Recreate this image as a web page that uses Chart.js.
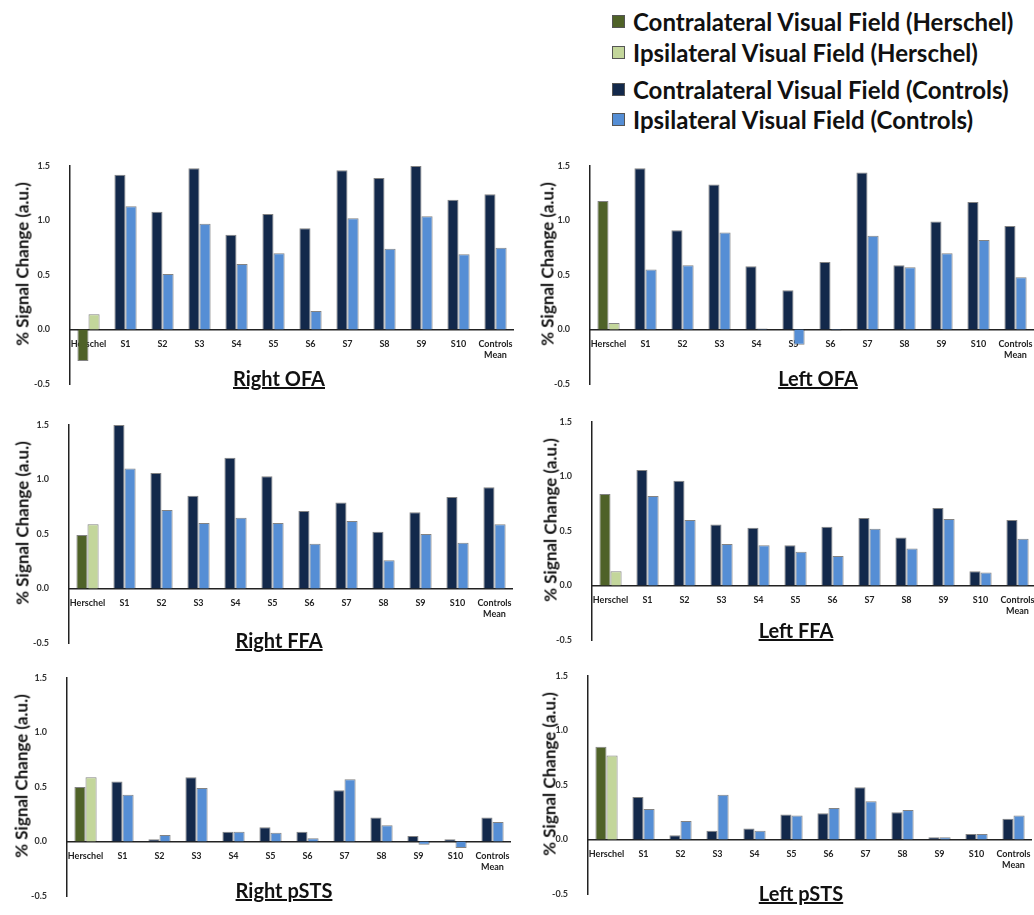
<!DOCTYPE html>
<html>
<head>
<meta charset="utf-8">
<script src="https://cdn.jsdelivr.net/npm/chart.js@4.4.0/dist/chart.umd.min.js"></script>
<style>
  body { margin: 0; background: #fff; font-family: Lato, sans-serif; }
  #page { position: relative; width: 1034px; height: 915px; overflow: hidden; }
  .legend-row { position: absolute; left: 612px; height: 28px; display: flex; align-items: center;
                font-weight: bold; font-size: 24px; color: #111; white-space: nowrap; }
  .swatch { width: 13px; height: 13px; box-sizing: border-box; border: 1px solid #555; margin-right: 8px; }
  .panel { position: absolute; width: 514px; height: 238px; }
  .ylab { position: absolute; font-weight: bold; font-size: 17px; color: #111; white-space: nowrap;
          transform: translate(-50%, -50%) rotate(-90deg); }
  .ptitle { position: absolute; font-weight: bold; font-size: 20px; color: #111; white-space: nowrap;
            text-decoration: underline; transform: translate(-50%, -50%); }
</style>
</head>
<body>
<div id="page"></div>
<script>
// ===== Data =====
const categories = ['Herschel', 'S1', 'S2', 'S3', 'S4', 'S5', 'S6', 'S7', 'S8', 'S9', 'S10', ['Controls', 'Mean']];
const yTicks = [-0.5, 0, 0.5, 1.0, 1.5];

const rightOfaContra = [-0.29, 1.42, 1.08, 1.48, 0.87, 1.06, 0.93, 1.46, 1.39, 1.50, 1.19, 1.24];
const rightOfaIpsi   = [0.14, 1.13, 0.51, 0.97, 0.60, 0.70, 0.17, 1.02, 0.74, 1.04, 0.69, 0.75];
const leftOfaContra  = [1.18, 1.48, 0.91, 1.33, 0.58, 0.36, 0.62, 1.44, 0.59, 0.99, 1.17, 0.95];
const leftOfaIpsi    = [0.06, 0.55, 0.59, 0.89, 0.01, -0.14, -0.01, 0.86, 0.57, 0.70, 0.82, 0.48];
const rightFfaContra = [0.49, 1.50, 1.06, 0.85, 1.20, 1.03, 0.71, 0.79, 0.52, 0.70, 0.84, 0.93];
const rightFfaIpsi   = [0.59, 1.10, 0.72, 0.60, 0.65, 0.60, 0.41, 0.62, 0.26, 0.50, 0.42, 0.59];
const leftFfaContra  = [0.84, 1.06, 0.96, 0.56, 0.53, 0.37, 0.54, 0.62, 0.44, 0.71, 0.13, 0.60];
const leftFfaIpsi    = [0.13, 0.82, 0.60, 0.38, 0.37, 0.31, 0.27, 0.52, 0.34, 0.61, 0.12, 0.43];
const rightStsContra = [0.50, 0.55, 0.02, 0.59, 0.09, 0.13, 0.09, 0.47, 0.22, 0.05, 0.02, 0.22];
const rightStsIpsi   = [0.59, 0.43, 0.06, 0.49, 0.09, 0.08, 0.03, 0.57, 0.15, -0.03, -0.06, 0.18];
const leftStsContra  = [0.85, 0.39, 0.04, 0.08, 0.10, 0.23, 0.24, 0.48, 0.25, 0.02, 0.05, 0.19];
const leftStsIpsi    = [0.77, 0.28, 0.17, 0.41, 0.08, 0.22, 0.29, 0.35, 0.27, 0.02, 0.05, 0.22];

const legendLabels = [
  'Contralateral Visual Field (Herschel)',
  'Ipsilateral Visual Field (Herschel)',
  'Contralateral Visual Field (Controls)',
  'Ipsilateral Visual Field (Controls)'
];

// ===== Colors =====
const colors = {
  herschelContra: '#4F6228',
  herschelIpsi: '#C3D69B',
  controlsContra: '#13294B',
  controlsIpsi: '#558ED5'
};
const legendColors = [colors.herschelContra, colors.herschelIpsi, colors.controlsContra, colors.controlsIpsi];

// ===== Layout =====
const panels = [
  { title: 'Right OFA',  contra: rightOfaContra, ipsi: rightOfaIpsi, axisX: 70,  top: 166, titleX: 279, titleY: 378, labX: 22 },
  { title: 'Left OFA',   contra: leftOfaContra,  ipsi: leftOfaIpsi,  axisX: 590, top: 166, titleX: 818, titleY: 378, labX: 547 },
  { title: 'Right FFA',  contra: rightFfaContra, ipsi: rightFfaIpsi, axisX: 69,  top: 425, titleX: 279, titleY: 640, labX: 22 },
  { title: 'Left FFA',   contra: leftFfaContra,  ipsi: leftFfaIpsi,  axisX: 592, top: 422, titleX: 796, titleY: 630, labX: 550 },
  { title: 'Right pSTS', contra: rightStsContra, ipsi: rightStsIpsi, axisX: 67,  top: 678, titleX: 284, titleY: 890, labX: 21 },
  { title: 'Left pSTS',  contra: leftStsContra,  ipsi: leftStsIpsi,  axisX: 588, top: 676, titleX: 801, titleY: 893, labX: 549 }
];
const AXIS_W = 70;
const PLOT_H = 218;
const PAD = 10;

const page = document.getElementById('page');

// ===== Legend =====
const legendY = [21, 52, 89, 119];
legendLabels.forEach((label, i) => {
  const row = document.createElement('div');
  row.className = 'legend-row';
  row.style.top = (legendY[i] - 14) + 'px';
  const sw = document.createElement('span');
  sw.className = 'swatch';
  sw.style.background = legendColors[i];
  row.appendChild(sw);
  row.appendChild(document.createTextNode(label));
  page.appendChild(row);
});

// ===== Charts =====
const tickFont = { family: 'Lato', size: 9, weight: 'bold' };

panels.forEach(p => {
  const box = document.createElement('div');
  box.className = 'panel';
  box.style.left = (p.axisX - AXIS_W) + 'px';
  box.style.top = (p.top - PAD) + 'px';
  const canvas = document.createElement('canvas');
  box.appendChild(canvas);
  page.appendChild(box);

  const ylab = document.createElement('div');
  ylab.className = 'ylab';
  ylab.textContent = '% Signal Change (a.u.)';
  ylab.style.left = p.labX + 'px';
  ylab.style.top = (p.top + 98) + 'px';
  page.appendChild(ylab);

  const title = document.createElement('div');
  title.className = 'ptitle';
  title.textContent = p.title;
  title.style.left = p.titleX + 'px';
  title.style.top = p.titleY + 'px';
  page.appendChild(title);

  new Chart(canvas.getContext('2d'), {
    type: 'bar',
    data: {
      labels: categories,
      datasets: [
        {
          label: 'Contralateral',
          data: p.contra,
          backgroundColor: categories.map((c, i) => i === 0 ? colors.herschelContra : colors.controlsContra),
          borderColor: 'rgba(30,30,30,0.55)',
          borderWidth: 1
        },
        {
          label: 'Ipsilateral',
          data: p.ipsi,
          backgroundColor: categories.map((c, i) => i === 0 ? colors.herschelIpsi : colors.controlsIpsi),
          borderColor: 'rgba(30,30,30,0.55)',
          borderWidth: 1
        }
      ]
    },
    options: {
      responsive: true,
      maintainAspectRatio: false,
      animation: false,
      layout: { padding: { top: PAD, bottom: PAD, left: 0, right: 0 } },
      datasets: { bar: { categoryPercentage: 0.6, barPercentage: 1.0 } },
      plugins: { legend: { display: false }, tooltip: { enabled: false } },
      scales: {
        x: {
          position: { y: 0 },
          afterFit: (s) => { s.height = 0; s.paddingLeft = 0; s.paddingRight = 0; },
          grid: { display: false, drawTicks: false },
          border: { display: true, color: '#222', width: 1.5 },
          ticks: { padding: 9, maxRotation: 0, autoSkip: false, color: '#222', font: tickFont }
        },
        y: {
          min: -0.5,
          max: 1.5,
          afterBuildTicks: (s) => { s.ticks = yTicks.map(v => ({ value: v })); },
          afterFit: (s) => { s.width = AXIS_W; s.paddingTop = 0; s.paddingBottom = 0; },
          grid: { display: false, drawTicks: false },
          border: { display: true, color: '#222', width: 1.5 },
          ticks: { padding: 20, color: '#333', font: tickFont, callback: (v) => Number(v).toFixed(1) }
        }
      }
    }
  });
});
</script>
</body>
</html>
